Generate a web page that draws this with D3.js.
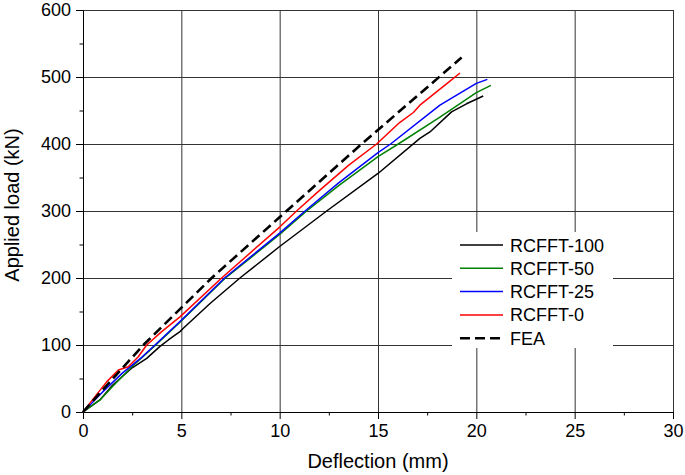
<!DOCTYPE html>
<html>
<head>
<meta charset="utf-8">
<script src="https://cdn.jsdelivr.net/npm/d3@7"></script>
<style>
  body { margin: 0; background: #fff; }
  text { font-family: "Liberation Sans", Arial, sans-serif; fill: #000; }
</style>
</head>
<body>
<div id="chart"></div>
<script>
// Series values: [deflection (mm), load (kN)]
const rcfft100 = [[0, 0], [0.86, 18], [1.5, 40], [2.5, 66], [3.24, 80], [3.9, 97.5], [4.34, 107.5], [4.93, 120], [5.1, 125], [6.46, 162], [7.98, 200], [10, 247], [12.39, 300], [15, 356], [17.13, 408.5], [17.64, 418], [18.74, 448], [19.5, 460], [20.35, 471.6]];
const rcfft50 = [[0, 0], [0.86, 18], [1.5, 38], [2.5, 68], [3.7, 100], [4.93, 134], [7.2, 199], [10, 265], [11.37, 300], [13, 338], [15, 381], [16.03, 400], [18.15, 440], [20, 476.6], [20.74, 487.6]];
const rcfft25 = [[0, 0], [1, 30], [2, 58], [3, 82], [3.66, 100], [4.93, 135], [7.2, 200], [10, 267], [11.29, 300], [13, 342], [15, 387], [15.64, 400], [18.15, 458], [20, 490.5], [20.56, 496.5]];
const rcfft0 = [[0, 0], [0.61, 23], [1.2, 45], [1.8, 62.7], [2.3, 67.6], [2.8, 82], [3.24, 100], [4.0, 120], [4.93, 142], [7.05, 200], [10, 276], [10.86, 300], [12, 330], [13.5, 368], [14.93, 400], [16.1, 432], [16.8, 447], [17.13, 458], [17.64, 470], [18.5, 490], [19.17, 506]];
const fea = [[0, 0], [1, 33], [3.07, 100], [6.54, 200], [10.35, 300], [14.17, 400], [19.25, 529]];

const seriesNames = ["RCFFT-100", "RCFFT-50", "RCFFT-25", "RCFFT-0", "FEA"];
const seriesData = [rcfft100, rcfft50, rcfft25, rcfft0, fea];
const seriesColors = ["#000000", "#008000", "#0000ff", "#ff0000", "#000000"];

const xTicks = [0, 5, 10, 15, 20, 25, 30];
const xMinor = [2.5, 7.5, 12.5, 17.5, 22.5, 27.5];
const yTicks = [0, 100, 200, 300, 400, 500, 600];
const yMinor = [50, 150, 250, 350, 450, 550];

const W = 685, H = 475;
const margin = { top: 10, right: 12, bottom: 63, left: 83 };
const width = W - margin.left - margin.right;
const height = H - margin.top - margin.bottom;

const svg = d3.select("#chart").append("svg")
  .attr("width", W).attr("height", H);
svg.append("rect").attr("width", W).attr("height", H).attr("fill", "#fff");

const g = svg.append("g")
  .attr("transform", "translate(" + margin.left + "," + margin.top + ")");

const x = d3.scaleLinear().domain([0, 30]).range([0, width]);
const y = d3.scaleLinear().domain([0, 600]).range([height, 0]);

// grid
g.append("g")
  .attr("class", "grid")
  .call(d3.axisBottom(x).tickValues(xTicks.slice(1)).tickSize(height).tickFormat(""))
  .call(s => s.select(".domain").remove());
g.append("g")
  .attr("class", "grid")
  .call(d3.axisLeft(y).tickValues(yTicks.slice(1)).tickSize(-width).tickFormat(""))
  .call(s => s.select(".domain").remove());

// axes
g.append("g")
  .attr("transform", "translate(0," + height + ")")
  .call(d3.axisBottom(x).tickValues(xTicks).tickSize(7).tickSizeOuter(0).tickPadding(5));
g.append("g")
  .attr("transform", "translate(0," + height + ")")
  .call(d3.axisBottom(x).tickValues(xMinor).tickSize(3.5).tickFormat(""))
  .call(s => s.select(".domain").remove());
g.append("g")
  .call(d3.axisLeft(y).tickValues(yTicks).tickSize(7).tickSizeOuter(0).tickPadding(5));
g.append("g")
  .call(d3.axisLeft(y).tickValues(yMinor).tickSize(3.5).tickFormat(""))
  .call(s => s.select(".domain").remove());

g.selectAll(".tick text").attr("font-size", 18).attr("font-family", "Liberation Sans, Arial, sans-serif");
g.selectAll(".domain, .tick line").attr("stroke", "#000");
g.selectAll(".grid line").attr("stroke", "#333");

// lines
const line = d3.line().x(d => x(d[0])).y(d => y(d[1]));
seriesData.forEach((data, i) => {
  const isFea = seriesNames[i] === "FEA";
  g.append("path")
    .datum(data)
    .attr("fill", "none")
    .attr("stroke", seriesColors[i])
    .attr("stroke-width", isFea ? 2.6 : 1.5)
    .attr("stroke-dasharray", isFea ? "10,5" : null)
    .attr("stroke-linejoin", "round")
    .attr("d", line);
});

// legend
const legend = svg.append("g");
legend.append("rect")
  .attr("x", 452).attr("y", 232).attr("width", 161).attr("height", 116)
  .attr("fill", "#fff");
seriesNames.forEach((name, i) => {
  const ly = 245 + i * 23.3;
  legend.append("line")
    .attr("x1", 460).attr("x2", 503).attr("y1", ly).attr("y2", ly)
    .attr("stroke", seriesColors[i])
    .attr("stroke-width", name === "FEA" ? 2.6 : 1.5)
    .attr("stroke-dasharray", name === "FEA" ? "10,5" : null);
  legend.append("text")
    .attr("x", 510).attr("y", ly + 6.5)
    .attr("font-size", 18)
    .text(name);
});

// axis titles
svg.append("text")
  .attr("x", margin.left + width / 2).attr("y", 468)
  .attr("text-anchor", "middle")
  .attr("font-size", 20)
  .text("Deflection (mm)");
svg.append("text")
  .attr("transform", "translate(19," + 205 + ") rotate(-90)")
  .attr("text-anchor", "middle")
  .attr("font-size", 20)
  .text("Applied load (kN)");
</script>
</body>
</html>
